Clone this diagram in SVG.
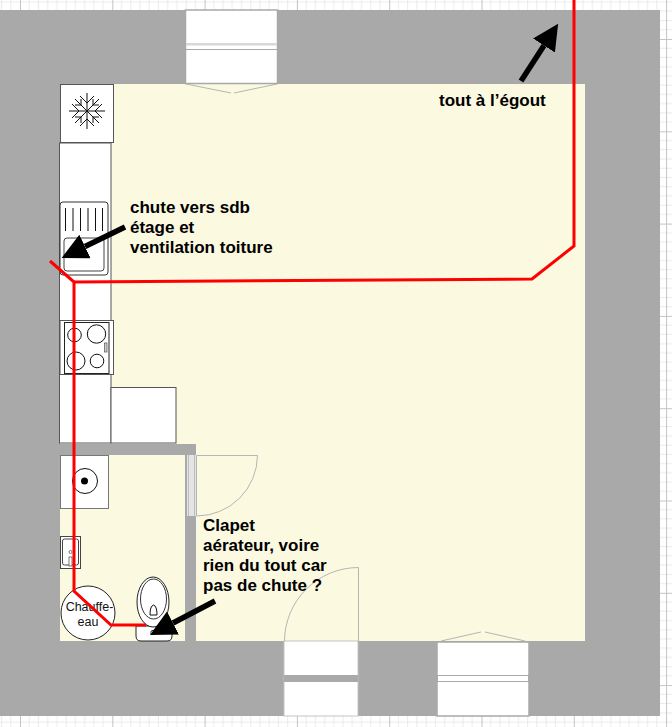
<svg xmlns="http://www.w3.org/2000/svg" width="672" height="727" viewBox="0 0 672 727">
<defs>
<pattern id="grid" width="92.3" height="92.3" patternUnits="userSpaceOnUse" x="20" y="39">
<path d="M9.23 0V92.3M18.46 0V92.3M27.69 0V92.3M36.92 0V92.3M46.15 0V92.3M55.38 0V92.3M64.61 0V92.3M73.84 0V92.3M83.07 0V92.3M0 9.23H92.3M0 18.46H92.3M0 27.69H92.3M0 36.92H92.3M0 46.15H92.3M0 55.38H92.3M0 64.61H92.3M0 73.84H92.3M0 83.07H92.3" fill="none" stroke="#eaeaea" stroke-width="1"/>
<path d="M0.5 0V92.3M0 0.5H92.3" fill="none" stroke="#c4c4c4" stroke-width="1"/>
</pattern>
<marker id="ah" markerUnits="userSpaceOnUse" markerWidth="30" markerHeight="30" refX="0" refY="13" orient="auto"><path d="M0 0L26 13L0 26Z" fill="#000"/></marker>
</defs>
<style>
.w{fill:#fff;stroke:#a9a9a9;stroke-width:1.5}
.u{fill:#fff;stroke:#555;stroke-width:1}
.k{fill:none;stroke:#111;stroke-width:1}
.d{fill:none;stroke:#b5b5b5;stroke-width:1}
.t{font:bold 17px "Liberation Sans",Arial,sans-serif;fill:#000}
.s{font:12.500px "Liberation Sans",Arial,sans-serif;fill:#111}
.a{fill:none;stroke:#000;stroke-width:5.500}
.p{fill:none;stroke:#f00;stroke-width:3}
</style>
<rect id="background" width="672" height="727" fill="#fff"/>
<rect id="grid-paper" width="672" height="727" fill="url(#grid)"/>
<g id="walls">
<rect x="0" y="10" width="660" height="706" fill="#a9a9a9"/>
<rect x="60" y="84" width="525" height="557" fill="#fbf9e0"/>
<rect x="60" y="444" width="136" height="11" fill="#a9a9a9"/>
<rect x="185" y="444" width="11" height="197" fill="#a9a9a9"/>
<rect x="187" y="455" width="9" height="61" fill="#e4e4e4"/>
<path d="M188.500 455V516M194.500 455V516" stroke="#bdbdbd" fill="none"/>
</g>
<g id="window-top">
<rect class="w" x="185.500" y="10" width="92" height="73.500"/>
<rect x="186" y="43" width="91" height="2.500" fill="#d8d8d8"/>
<path d="M186 49.500H277" stroke="#a9a9a9" fill="none"/>
<path class="d" d="M186 84L231 93M234 93L277 84"/>
</g>
<g id="door-right">
<rect class="w" x="437" y="642" width="92" height="74"/>
<rect x="437.500" y="675.500" width="91" height="6" fill="#fff" stroke="#aaa" stroke-width="1"/>
<path class="d" d="M441 641L481 632M485 632L525 641"/>
</g>
<g id="door-bottom">
<rect x="284" y="641" width="74" height="75" fill="#fff" stroke="#c4c4c4" stroke-width="1"/>
<rect x="284" y="675" width="74" height="7" fill="#a9a9a9"/>
<path class="d" d="M358.500 641V567.500A74 74 0 0 0 284.500 641"/>
</g>
<g id="door-bath">
<path class="d" d="M196.500 516V455.500H257.500A61 61 0 0 1 196.500 516"/>
</g>
<g id="kitchen">
<rect class="u" x="59.500" y="143" width="51.500" height="300"/>
<rect class="u" x="111" y="387.500" width="65" height="55.500"/>
</g>
<g id="freezer">
<rect class="u" x="60.500" y="84.500" width="53" height="58"/>
<path class="k" d="M87 93V129M69 111H105M75 99L99 123M99 99L75 123M80 96L87 103L94 96M80 126L87 119L94 126M72 104L79 111L72 118M102 104L95 111L102 118M75 105H81V99M93 99V105H99M75 117H81V123M93 123V117H99"/>
</g>
<g id="sink">
<rect x="60" y="202" width="48" height="73" rx="3" fill="#fff" stroke="#333"/>
<rect x="64" y="238" width="40" height="33" rx="3" fill="#fff" stroke="#444"/>
<path class="k" d="M65.500 208V231M73 208V231M80.500 208V231M88 208V231M95.500 208V231M102.500 208V231"/>
</g>
<g id="stove">
<rect class="u" x="60" y="320.500" width="53.500" height="54"/>
<rect x="64.500" y="322.500" width="44.500" height="51" fill="#fff" stroke="#222"/>
<circle class="k" cx="74.500" cy="335" r="6.800"/><circle class="k" cx="96.500" cy="334" r="9.200"/>
<circle class="k" cx="76" cy="361" r="9"/><circle class="k" cx="97" cy="361" r="6.800"/>
<rect x="104.500" y="343" width="2.500" height="9" fill="#ccc" stroke="#555" stroke-width="0.7"/>
</g>
<g id="washbasin">
<rect x="60.500" y="455.500" width="48" height="53" fill="#fff" stroke="#777"/>
<circle class="k" cx="85" cy="481" r="12.500"/>
<circle cx="84.500" cy="481" r="3.500" fill="#000"/>
</g>
<g id="small-sink">
<rect x="60.500" y="536.500" width="20" height="32" fill="#fff" stroke="#444"/>
<rect x="62.500" y="539" width="16" height="26" rx="2" fill="none" stroke="#444"/>
<rect x="69" y="557" width="3" height="9" fill="#fff" stroke="#444" stroke-width="0.7"/>
<circle cx="70.500" cy="552" r="1.500" fill="none" stroke="#444" stroke-width="0.7"/>
</g>
<g id="water-heater">
<circle cx="88" cy="613" r="27" fill="#fff" stroke="#222"/>
<text class="s" x="89.500" y="611" text-anchor="middle">Chauffe-</text>
<text class="s" x="88" y="626" text-anchor="middle">eau</text>
</g>
<g id="toilet">
<path d="M136 626V636Q136 641 141 641H167Q172 641 172 636V626Z" fill="#fff" stroke="#222"/>
<ellipse cx="153" cy="602" rx="16" ry="25" fill="#fff" stroke="#222"/>
<ellipse cx="153.500" cy="599" rx="13" ry="20" fill="#fff" stroke="#333"/>
<path class="k" d="M150 615Q150 606 153.500 605Q157 606 157 615Z"/>
<circle cx="153" cy="632.500" r="2.200" fill="none" stroke="#222"/>
</g>
<g id="connectors">
<path class="p" d="M50 261L74 282V591L111 625H146"/>
<path class="p" d="M74 282L532 279L574 246V0"/>
<path class="a" marker-end="url(#ah)" d="M125 227L85 246.500"/>
<path class="a" marker-end="url(#ah)" d="M521 81L544 45.500"/>
<path class="a" marker-end="url(#ah)" d="M215 601L173 623"/>
</g>
<g id="labels">
<text class="t" x="439" y="106">tout à l’égout</text>
<text class="t" x="130" y="213">chute vers sdb</text>
<text class="t" x="130" y="233">étage et</text>
<text class="t" x="130" y="253">ventilation toiture</text>
<text class="t" x="203" y="531">Clapet</text>
<text class="t" x="203" y="551">aérateur, voire</text>
<text class="t" x="203" y="571">rien du tout car</text>
<text class="t" x="203" y="591">pas de chute ?</text>
</g>
</svg>
